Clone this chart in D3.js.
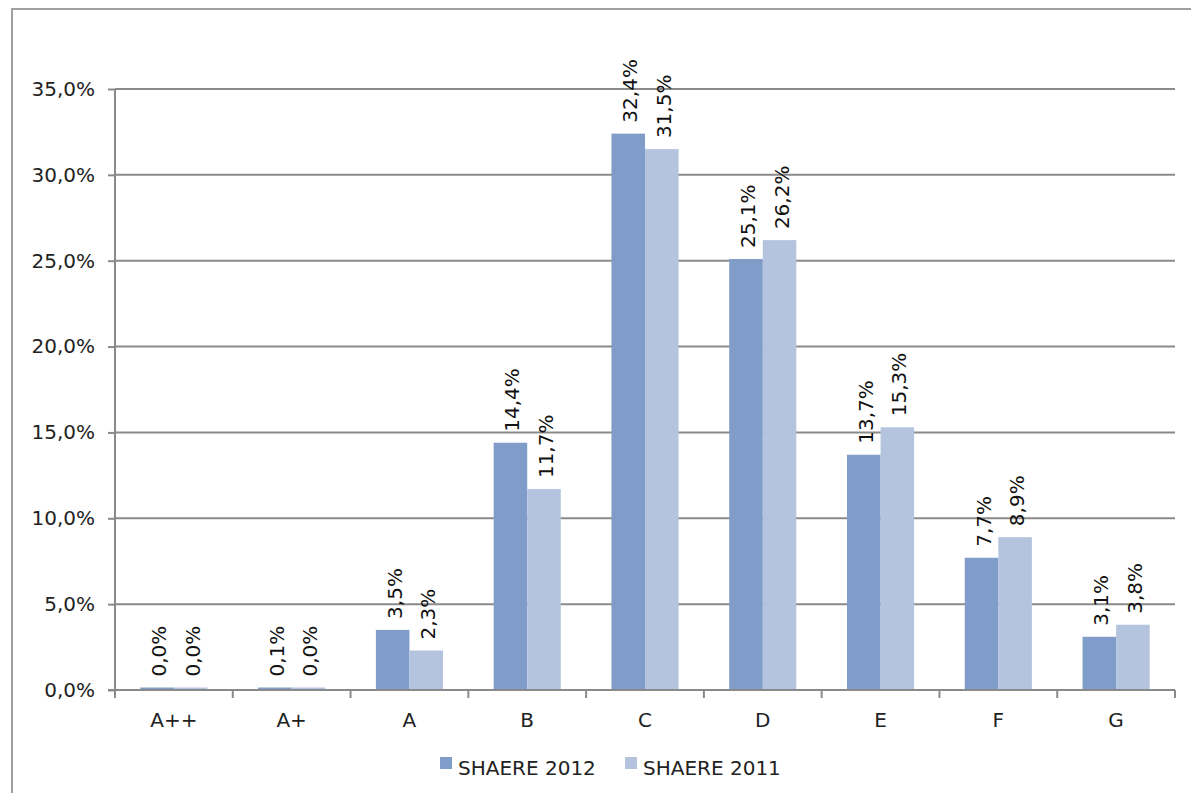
<!DOCTYPE html>
<html><head><meta charset="utf-8">
<script src="https://cdn.jsdelivr.net/npm/d3@7/dist/d3.min.js"></script>
<style>body{margin:0;background:#fff;} svg{display:block;font-family:"DejaVu Sans",Verdana,sans-serif;}</style>
</head><body>
<svg id="c" width="1191" height="793"></svg>
<script>
const categories = ["A++","A+","A","B","C","D","E","F","G"];
const series2012 = [0.04,0.1,3.5,14.4,32.4,25.1,13.7,7.7,3.1];
const series2011 = [0.04,0.04,2.3,11.7,31.5,26.2,15.3,8.9,3.8];
const seriesNames = ["SHAERE 2012","SHAERE 2011"];
const yTicks = [0,5,10,15,20,25,30,35];
const colors = ["#7f9dc8","#b4c4df"];

(function(){
const svg = d3.select("#c");
const pL = 115, pR = 1175, pT = 89, pB = 690;

// outer frame
svg.append("rect").attr("x",12).attr("y",9).attr("width",1200).attr("height",820)
  .attr("fill","none").attr("stroke","#a0a0a0").attr("stroke-width",2);

const x = d3.scaleBand().domain(categories).range([pL,pR]).paddingInner(0.43).paddingOuter(0.215);
const xb = d3.scaleBand().domain(categories).range([pL,pR]);
const y = d3.scaleLinear().domain([0,35]).range([pB,pT]);

// gridlines
svg.append("g").selectAll("line").data(yTicks.filter(d=>d>0)).join("line")
  .attr("x1",pL).attr("x2",pR).attr("y1",d=>y(d)).attr("y2",d=>y(d))
  .attr("stroke","#8a8a8a").attr("stroke-width",2);

// bars
const inner = d3.scaleBand().domain([0,1]).range([0,x.bandwidth()]);
const data = categories.map((c,i)=>({c,vals:[series2012[i],series2011[i]]}));
const g = svg.append("g");
data.forEach(d=>{
  d.vals.forEach((v,k)=>{
    const bx = x(d.c)+inner(k);
    g.append("rect").attr("x",bx).attr("y",Math.min(y(v),pB-2.5)).attr("width",inner.bandwidth())
      .attr("height",Math.max(pB-y(v),2.5)).attr("fill",colors[k]);
    const lbl = v.toFixed(1).replace(".",",")+"%";
    const tx = bx+inner.bandwidth()/2+2, ty = Math.min(y(v),pB-2.5)-11;
    g.append("text").attr("transform",`translate(${tx},${ty}) rotate(-90)`)
      .attr("dominant-baseline","central").attr("font-size",20).attr("fill","#111")
      .text(lbl);
  });
});

// y axis
const yAxis = d3.axisLeft(y).tickValues(yTicks).tickSize(7).tickPadding(13)
  .tickFormat(d=>d.toFixed(1).replace(".",",")+"%");
const ya = svg.append("g").attr("transform",`translate(${pL},0)`).call(yAxis);
ya.selectAll("path,line").attr("stroke","#8a8a8a").attr("stroke-width",2);
ya.select(".domain").attr("d",`M0,${pT}V${pB}`);
ya.selectAll("text").attr("font-size",20).attr("fill","#222").attr("font-family","DejaVu Sans");

// x axis
const xa = svg.append("g").attr("transform",`translate(0,${pB})`);
xa.append("line").attr("x1",pL-7).attr("x2",pR).attr("stroke","#8a8a8a").attr("stroke-width",2);
const bounds = categories.map(c=>xb(c)).concat([pR]);
xa.selectAll("line.t").data(bounds).join("line").attr("class","t")
  .attr("x1",d=>d).attr("x2",d=>d).attr("y1",0).attr("y2",8).attr("stroke","#8a8a8a").attr("stroke-width",2);
xa.selectAll("text").data(categories).join("text")
  .attr("x",d=>xb(d)+xb.bandwidth()/2).attr("y",37).attr("text-anchor","middle")
  .attr("font-size",20).attr("fill","#222").text(d=>d);

// legend
const leg = svg.append("g");
const legX = [440,625];
seriesNames.forEach((n,k)=>{
  leg.append("rect").attr("x",legX[k]).attr("y",757).attr("width",12).attr("height",12).attr("fill",colors[k]);
  leg.append("text").attr("x",legX[k]+18).attr("y",775).attr("font-size",20).attr("fill","#222").text(n);
});
})();
</script>
</body></html>
